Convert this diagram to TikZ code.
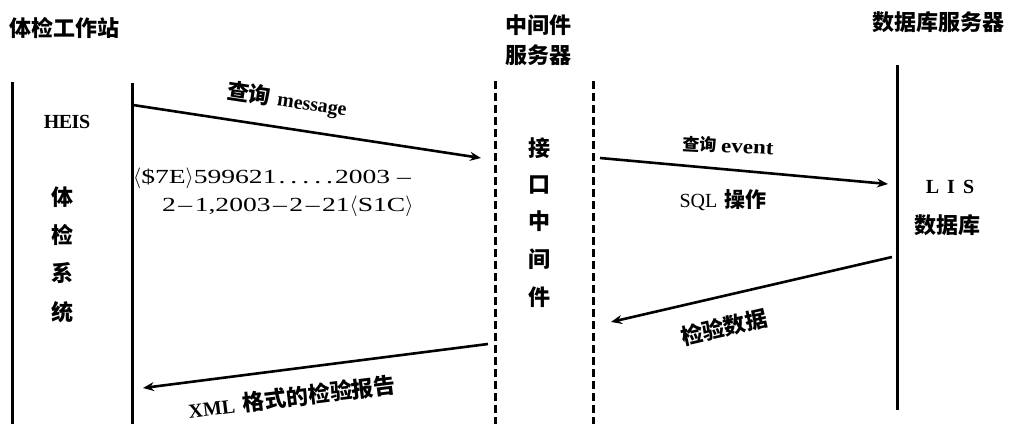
\documentclass[tikz,border=0pt]{standalone}
\usepackage{fontspec}
\setmainfont{Liberation Serif}
\newfontfamily\cjk{Noto Sans CJK SC}
\newfontfamily\latdata{Liberation Serif}[FakeStretch=1.38]
\newfontfamily\latw{Liberation Serif}[FakeStretch=1.15]
\usetikzlibrary{arrows.meta}
\tikzset{
  life/.style={line width=3pt},
  dlife/.style={line width=3pt, dash pattern=on 8pt off 4pt},
  msg/.style={line width=2.6pt, -{Stealth[length=11pt,width=9pt]}},
  ttl/.style={font=\cjk\bfseries\fontsize{22}{26}\selectfont, inner sep=0pt},
  lbl/.style={font=\cjk\bfseries\fontsize{22}{26}\selectfont, inner sep=0pt},
  lat/.style={font=\latdata\fontsize{20}{24}\selectfont, inner sep=0pt},
}
\begin{document}
\begin{tikzpicture}[x=1pt,y=-1pt]
\useasboundingbox (0,0) rectangle (1010,424);
% lifelines
\coordinate (l1t) at (12,82); \coordinate (l1b) at (12,424);
\coordinate (l2t) at (132,83); \coordinate (l2b) at (132,424);
\coordinate (l3t) at (495,81); \coordinate (l3b) at (495,424);
\coordinate (l4t) at (593,81); \coordinate (l4b) at (593,424);
\coordinate (l5t) at (897,65); \coordinate (l5b) at (897,410);
\draw[life] (l1t) -- (l1b);
\draw[life] (l2t) -- (l2b);
\draw[dlife] (l3t) -- (l3b);
\draw[dlife] (l4t) -- (l4b);
\draw[life] (l5t) -- (l5b);
% titles
\node[ttl, anchor=west] (t1) at (9,28) {体检工作站};
\node[ttl] (t2a) at (538,25) {中间件};
\node[ttl] (t2b) at (538,55) {服务器};
\node[ttl, anchor=east] (t3) at (1005,22) {数据库服务器};
% left box text
\node[font=\bfseries\fontsize{20}{22}\selectfont, inner sep=0pt] (heis) at (67,122) {H\kern-0.5pt E\kern-0.5pt I\kern-0.5pt S};
\node[lbl] (v1) at (62,197) {体};
\node[lbl] (v2) at (62,235) {检};
\node[lbl] (v3) at (62,273) {系};
\node[lbl] (v4) at (62,312) {统};
% middle
\node[lbl] (m1) at (539,148) {接};
\node[lbl] (m2) at (539,185) {口};
\node[lbl] (m3) at (539,221) {中};
\node[lbl] (m4) at (539,259) {间};
\node[lbl] (m5) at (539,297) {件};
% right
\node[font=\bfseries\fontsize{20}{22}\selectfont, inner sep=0pt] (lis) at (950,187) {L\hspace{8pt}I\hspace{8pt}S};
\node[lbl] (db) at (947,225) {数据库};
% arrow endpoints
\coordinate (a1s) at (133,105); \coordinate (a1e) at (481,158);
\coordinate (a2s) at (600,158); \coordinate (a2e) at (888,184);
\coordinate (a3s) at (892,257); \coordinate (a3e) at (611,322);
\coordinate (a4s) at (488,344); \coordinate (a4e) at (143,388);
\draw[msg] (a1s) -- (a1e);
\draw[msg] (a2s) -- (a2e);
\draw[msg] (a3s) -- (a3e);
\draw[msg] (a4s) -- (a4e);
% labels
\node[rotate=-8.5, inner sep=0pt] (lb1) at (287,100) {{\cjk\bfseries\fontsize{22}{26}\selectfont 查询}\hspace{7pt}{\bfseries\fontsize{20}{22}\selectfont message}};
\node[anchor=west, lat] (d1) at (133,178) {$\langle$\$7E$\rangle$599621\hspace{2pt}.\hspace{5pt}.\hspace{5pt}.\hspace{5pt}.\hspace{5pt}.\hspace{2pt}2003 –};
\node[anchor=west, lat] (d2) at (162,206) {2\hspace{2.5pt}–\hspace{2.5pt}1,2003\hspace{2.5pt}–\hspace{2.5pt}2\hspace{2.5pt}–\hspace{2.5pt}21$\langle$S1C$\rangle$};
\node[rotate=-3, inner sep=0pt] (lb2) at (728,146) {{\cjk\bfseries\fontsize{17}{20}\selectfont 查询}\hspace{5pt}{\latw\bfseries\fontsize{20}{22}\selectfont event}};
\node[inner sep=0pt] (lb3) at (723,200) {{\fontsize{20}{22}\selectfont SQL}\hspace{7pt}{\cjk\bfseries\fontsize{21}{24}\selectfont 操作}};
\node[rotate=13, lbl] (lb4) at (724,327) {检验数据};
\node[rotate=7, inner sep=0pt] (lb5) at (292,397) {{\bfseries\fontsize{20}{22}\selectfont XML}\hspace{8pt}{\cjk\bfseries\fontsize{22}{26}\selectfont 格式的检验报告}};
\end{tikzpicture}
\end{document}
